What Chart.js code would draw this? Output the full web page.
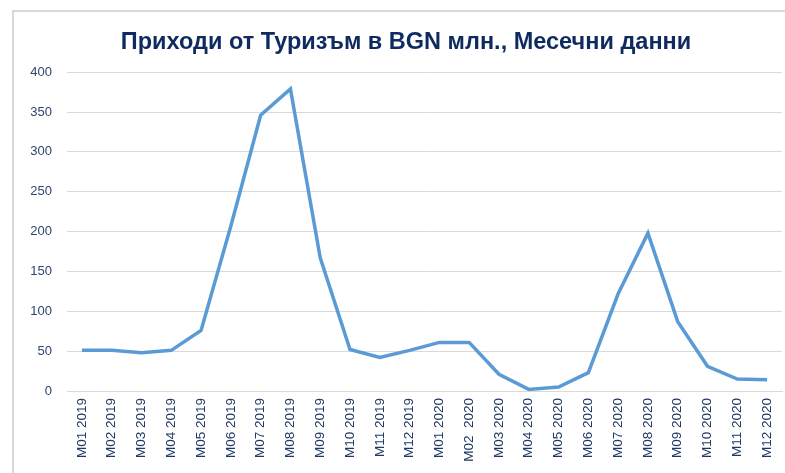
<!DOCTYPE html>
<html>
<head>
<meta charset="utf-8">
<script src="https://cdn.jsdelivr.net/npm/chart.js@4"></script>
<style>
  html, body { margin: 0; padding: 0; background: #fff; }
  #wrap { position: relative; width: 785px; height: 473px; overflow: hidden; }
  #frame { position: absolute; left: 12px; top: 10px; right: -4px; bottom: -4px;
           border-left: 2px solid #d9d9d9; border-top: 2px solid #d9d9d9; }
  #chart { position: absolute; left: 0; top: 0; }
</style>
</head>
<body>
<div id="wrap">
  <div id="frame"></div>
  <canvas id="chart" width="785" height="473"></canvas>
</div>
<script>
// months on the x axis (note the double space in M02 2020, as in the source)
const months = [
  "M01 2019", "M02 2019", "M03 2019", "M04 2019", "M05 2019", "M06 2019",
  "M07 2019", "M08 2019", "M09 2019", "M10 2019", "M11 2019", "M12 2019",
  "M01 2020", "M02  2020", "M03 2020", "M04 2020", "M05 2020", "M06 2020",
  "M07 2020", "M08 2020", "M09 2020", "M10 2020", "M11 2020", "M12 2020"
];

// tourism revenue, BGN mln
const revenue = [
  51, 51, 48, 51, 76, 207, 346, 379, 167, 52, 42, 51,
  61, 61, 21, 2, 5, 23, 122, 198, 87, 31, 15, 14
];

const chartTitle = "Приходи от Туризъм в BGN млн., Месечни данни";
const navy = "#1f3864";
const gridColor = "#d9d9d9";

const ctx = document.getElementById("chart").getContext("2d");
new Chart(ctx, {
  type: "line",
  data: {
    labels: months,
    datasets: [{
      label: "Приходи",
      data: revenue,
      borderColor: "#5b9bd5",
      borderWidth: 3.5,
      pointRadius: 0,
      tension: 0,
      fill: false,
    }],
  },
  options: {
    responsive: false,
    animation: false,
    devicePixelRatio: 1,
    layout: { padding: { left: 30, right: 3, top: 0, bottom: 0 } },
    plugins: {
      legend: { display: false },
      tooltip: { enabled: false },
      title: {
        display: true,
        text: chartTitle,
        color: "#0e2a5e",
        font: { family: "Liberation Sans", size: 23.5, weight: "bold" },
        padding: { top: 28, bottom: 16 },
      },
    },
    scales: {
      x: {
        offset: true,
        grid: { display: false, drawTicks: false },
        border: { display: true, color: gridColor, width: 1 },
        ticks: {
          autoSkip: false,
          maxRotation: 90,
          minRotation: 90,
          padding: 7,
          color: navy,
          font: { family: "Liberation Sans", size: 13.5 },
        },
        afterFit: (scale) => {
          scale.height = 82;
          scale.paddingRight = 0;
        },
      },
      y: {
        min: 0,
        max: 400,
        ticks: {
          stepSize: 50,
          padding: 15,
          color: "#2f4570",
          font: { family: "Liberation Sans", size: 13 },
        },
        grid: { color: gridColor, lineWidth: 1, drawTicks: false },
        border: { display: false },
        afterFit: (scale) => { scale.width = 37; },
      },
    },
  },
});
</script>
</body>
</html>
